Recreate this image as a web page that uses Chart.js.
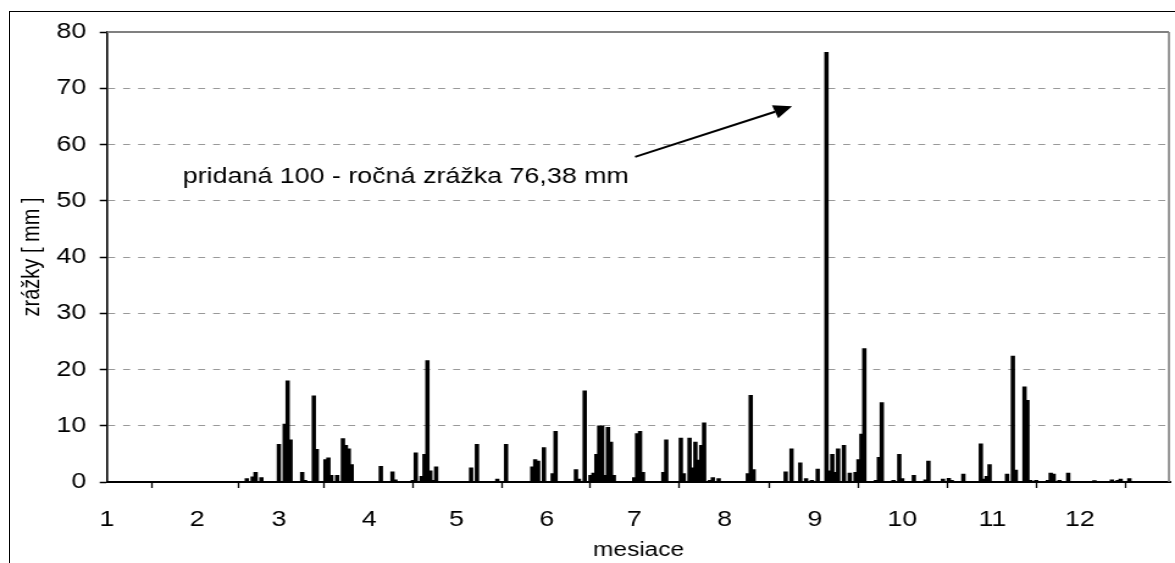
<!DOCTYPE html>
<html>
<head>
<meta charset="utf-8">
<script src="https://cdn.jsdelivr.net/npm/chart.js@4/dist/chart.umd.min.js"></script>
<style>
  html, body { margin: 0; padding: 0; background: #fff; overflow: hidden; }
  #wrap { position: relative; width: 1175px; height: 563px; }
  #frame { position: absolute; left: 9px; top: 11px; width: 1200px; height: 600px; border: 1px solid #000; }
  #zrazky { position: absolute; left: 0; top: 0; }
</style>
</head>
<body>
<div id="wrap"><div id="frame"></div><canvas id="zrazky" height="563" style="width:1175px;height:563px"></canvas></div>
<script>
// day of the year (0 = 1st January) of every day with rain
var days = [48, 50, 51, 53, 59, 61, 62, 63, 67, 68, 71, 72, 75, 76, 77, 79, 81, 82, 83, 84,
    94, 98, 99, 105, 106, 108, 109, 110, 111, 112, 113, 125, 127, 134, 137,
    146, 147, 148, 150, 153, 154, 161, 162, 164, 166, 167, 168, 169, 170, 171, 172, 173, 174,
    181, 182, 183, 184, 191, 192, 197, 198, 200, 201, 202, 203, 204, 205, 207, 208, 210,
    220, 221, 222, 233, 235, 238, 240, 242, 244, 247, 248, 249, 250, 251, 253, 255, 257, 258, 259, 260,
    264, 265, 266, 270, 272, 273, 277, 281, 282, 287, 289, 290, 294,
    300, 301, 302, 303, 309, 311, 312, 315, 316, 317, 319, 323, 324, 325, 327, 330,
    339, 345, 347, 348, 351];
// daily rainfall [mm]
var rain = [0.6, 0.9, 1.7, 0.8, 6.7, 10.3, 18.0, 7.5, 1.7, 0.3, 15.3, 5.8, 4.0, 4.3, 1.2, 1.2, 7.7, 6.5, 5.9, 3.1,
    2.8, 1.8, 0.4, 0.3, 5.2, 1.0, 4.9, 21.6, 2.0, 0.3, 2.7, 2.5, 6.7, 0.5, 6.7,
    2.7, 4.0, 3.7, 6.1, 1.5, 9.0, 2.2, 0.5, 16.2, 1.2, 1.6, 4.9, 10.0, 10.0, 1.2, 9.7, 7.1, 1.2,
    0.8, 8.6, 9.0, 1.7, 1.7, 7.5, 7.8, 1.5, 7.8, 2.5, 7.1, 3.9, 6.5, 10.5, 0.3, 0.8, 0.6,
    1.5, 15.4, 2.2, 1.8, 5.9, 3.4, 0.6, 0.3, 2.3, 76.38, 2.0, 4.9, 1.7, 5.9, 6.5, 1.6, 1.7, 4.0, 8.5, 23.7,
    0.3, 4.4, 14.1, 0.3, 4.9, 0.6, 1.2, 0.4, 3.7, 0.5, 0.65, 0.3, 1.4,
    6.8, 0.5, 1.0, 3.1, 1.4, 22.4, 2.1, 16.9, 14.5, 0.3, 0.3, 0.3, 1.6, 1.4, 0.3, 1.6,
    0.25, 0.4, 0.3, 0.5, 0.6];
// first day of each month, labels 1..12
var monthStarts = [0, 31, 59, 90, 120, 151, 181, 212, 243, 273, 304, 334, 365];
var monthLabels = ['1', '2', '3', '4', '5', '6', '7', '8', '9', '10', '11', '12', ''];

var noteText = 'pridaná 100 - ročná zrážka 76,38 mm';
var notePos = [26, 54.2];
var arrowFrom = [181.3, 57.8];
var arrowTo = [235.2, 66.8];

var font = "'Liberation Sans', Arial, sans-serif";

// the original picture is stretched sideways, so the canvas is drawn narrower
// and widened by css
var stretch = 1.22;
var canvas = document.getElementById('zrazky');
canvas.width = Math.round(1175 / stretch);
function sx(px) { return px / stretch; }

var points = [];
for (var i = 0; i < days.length; i++)
    points.push({x: days[i], y: rain[i]});

// gray plot border on top / right, arrow and note
var framePlugin = {
    id: 'framePlugin',
    beforeDatasetsDraw: function(chart) {
        var a = chart.chartArea, ctx = chart.ctx;
        ctx.save();
        ctx.strokeStyle = '#808080';
        ctx.lineWidth = 2;
        ctx.beginPath();
        ctx.moveTo(a.left, a.top);
        ctx.lineTo(a.right - 1, a.top);
        ctx.stroke();
        ctx.lineWidth = 1.6;
        ctx.beginPath();
        ctx.moveTo(a.right - 1, a.top);
        ctx.lineTo(a.right - 1, a.bottom);
        ctx.stroke();
        ctx.restore();
    },
    afterDraw: function(chart) {
        var ctx = chart.ctx, xs = chart.scales.x, ys = chart.scales.y;
        ctx.save();
        ctx.fillStyle = '#000';
        ctx.font = '22px ' + font;
        ctx.textBaseline = 'middle';
        ctx.fillText(noteText, xs.getPixelForValue(notePos[0]), ys.getPixelForValue(notePos[1]));

        var x1 = xs.getPixelForValue(arrowFrom[0]), y1 = ys.getPixelForValue(arrowFrom[1]);
        var x2 = xs.getPixelForValue(arrowTo[0]), y2 = ys.getPixelForValue(arrowTo[1]);
        var ang = Math.atan2(y2 - y1, x2 - x1);
        var len = 15, half = 7;
        var bx = x2 - len * Math.cos(ang), by = y2 - len * Math.sin(ang);
        ctx.strokeStyle = '#000';
        ctx.lineWidth = 2;
        ctx.beginPath();
        ctx.moveTo(x1, y1);
        ctx.lineTo(bx, by);
        ctx.stroke();
        ctx.beginPath();
        ctx.moveTo(x2, y2);
        ctx.lineTo(bx + half * Math.sin(ang), by - half * Math.cos(ang));
        ctx.lineTo(bx - half * Math.sin(ang), by + half * Math.cos(ang));
        ctx.closePath();
        ctx.fill();
        ctx.restore();
    }
};

new Chart(canvas, {
    type: 'bar',
    data: {
        datasets: [{
            data: points,
            backgroundColor: '#000',
            borderWidth: 0,
            barThickness: 2.9
        }]
    },
    options: {
        responsive: false,
        animation: false,
        events: [],
        layout: {padding: {left: 0, top: 32, right: canvas.width - sx(1170), bottom: 0}},
        plugins: {legend: {display: false}, tooltip: {enabled: false}},
        scales: {
            x: {
                type: 'linear',
                min: 0,
                max: 365,
                offset: false,
                afterBuildTicks: function(scale) {
                    scale.ticks = monthStarts.map(function(v) { return {value: v}; });
                },
                afterFit: function(scale) {
                    scale.height = 81;
                    scale.paddingLeft = 0;
                    scale.paddingRight = 0;
                },
                ticks: {
                    autoSkip: false,
                    maxRotation: 0,
                    padding: 19,
                    color: '#000',
                    font: {family: font, size: 22},
                    callback: function(v, i) { return monthLabels[i]; }
                },
                grid: {drawOnChartArea: false, tickLength: 6, tickColor: '#000', tickWidth: 1.3},
                border: {color: '#000', width: 2},
                title: {
                    display: true,
                    text: 'mesiace',
                    color: '#000',
                    font: {family: font, size: 20},
                    padding: {top: 0, bottom: 1}
                }
            },
            y: {
                min: 0,
                max: 80,
                afterFit: function(scale) { scale.width = sx(107); },
                ticks: {
                    stepSize: 10,
                    padding: 11,
                    color: '#000',
                    font: {family: font, size: 22}
                },
                grid: {color: '#999', lineWidth: 1, tickLength: 6, tickColor: '#000', tickWidth: 1.5},
                border: {color: '#000', width: 1.6, dash: [sx(7), sx(8)]},
                title: {
                    display: true,
                    text: 'zrážky [ mm ]',
                    color: '#000',
                    font: {family: font, size: 20},
                    padding: {top: 14, bottom: 0}
                }
            }
        }
    },
    plugins: [framePlugin]
});
</script>
</body>
</html>
